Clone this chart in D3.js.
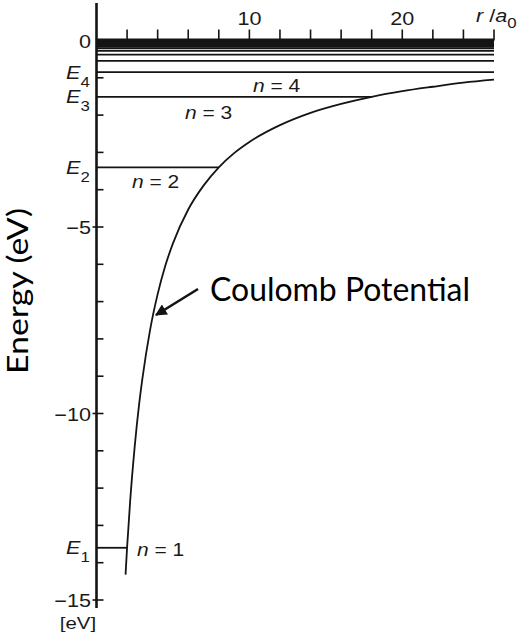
<!DOCTYPE html>
<html>
<head>
<meta charset="utf-8">
<script src="https://cdn.jsdelivr.net/npm/d3@7"></script>
<style>
  html, body { margin: 0; padding: 0; background: #fff; }
  svg { display: block; }
</style>
</head>
<body>
<svg id="chart" width="519" height="637"></svg>
<script>
// ---- data ----
// Coulomb potential V(r) in eV against r / a0
const curveR = [1.9, 2.0, 2.2, 2.5, 2.8, 3.0, 3.5, 4.0, 4.5, 5.0, 6.0, 7.0, 8.0, 9.0, 10, 12, 14, 16, 18, 20, 22, 24, 26];
const curveV = [-14.32, -13.6, -12.36, -10.88, -9.71, -9.07, -7.77, -6.8, -6.04, -5.44, -4.53, -3.89, -3.4, -3.02, -2.72, -2.27, -1.94, -1.7, -1.51, -1.36, -1.24, -1.13, -1.05];

// Energy levels (eV) and the r/a0 where each line stops (null = to the axis end)
const levelE   = [-13.6, -3.4, -1.51, -0.85, -0.544, -0.378, -0.278, -0.213, -0.168, -0.136, -0.112, -0.094, -0.08, -0.069, -0.06, -0.053, -0.047, -0.042, -0.038, -0.034, -0.028, -0.022, -0.016, -0.01, -0.005];
const levelEndR = [2, 8, 18, null];
const levelNames = ["1", "2", "3", "4"];      // subscripts of E_n
const nLabels    = ["n = 1", "n = 2", "n = 3", "n = 4"];

// axes
const xTicks = [2, 4, 6, 8, 10, 12, 14, 16, 18, 20, 22, 24, 26];
const xTickLabels = [10, 20];
const yMajorTicks = [0, -5, -10, -15];
const yMinorTicks = [-1, -2, -3, -4, -6, -7, -8, -9, -11, -12, -13, -14];

// ---- drawing ----
const svg = d3.select("#chart");
const ink = "#141414";
const SANS = "'Liberation Sans', Arial, sans-serif";
const SX = 1.2; // the figure's lettering is horizontally wide

const x = d3.scaleLinear().domain([0, 26]).range([96.5, 494]);
const y = d3.scaleLinear().domain([0, -15]).range([40.5, 600]);

function label(px, py, anchor, size) {
  return svg.append("text")
    .attr("transform", `translate(${px},${py}) scale(${SX},1)`)
    .attr("text-anchor", anchor)
    .style("font-family", SANS).style("font-size", size + "px").style("fill", "#1a1a1a");
}

// energy level lines
svg.append("g").selectAll("line").data(levelE).join("line")
  .attr("x1", x(0))
  .attr("x2", (d, i) => (levelEndR[i] != null ? x(levelEndR[i]) : x(26)))
  .attr("y1", d => y(d)).attr("y2", d => y(d))
  .attr("stroke", ink).attr("stroke-width", 1.8);

// x axis (top) with upward ticks
svg.append("line").attr("x1", x(0)).attr("x2", x(26))
  .attr("y1", y(0)).attr("y2", y(0))
  .attr("stroke", ink).attr("stroke-width", 4);
svg.append("g").selectAll("line").data(xTicks).join("line")
  .attr("x1", d => x(d)).attr("x2", d => x(d))
  .attr("y1", y(0)).attr("y2", y(0) - 11)
  .attr("stroke", ink).attr("stroke-width", 1.6);
xTickLabels.forEach(v => label(x(v), 25, "middle", 18).text(v));

// r / a0 label
const rl = label(476, 22, "start", 18);
rl.append("tspan").style("font-style", "italic").text("r");
rl.append("tspan").text(" /");
rl.append("tspan").style("font-style", "italic").text("a");
rl.append("tspan").style("font-size", "14px").attr("dy", 6).text("0");

// y axis
svg.append("line").attr("x1", x(0)).attr("x2", x(0))
  .attr("y1", 3).attr("y2", 608)
  .attr("stroke", ink).attr("stroke-width", 2.6);
svg.append("g").selectAll("line").data(yMinorTicks).join("line")
  .attr("x1", x(0)).attr("x2", x(0) + 7)
  .attr("y1", d => y(d)).attr("y2", d => y(d))
  .attr("stroke", ink).attr("stroke-width", 1.6);
svg.append("g").selectAll("line").data(yMajorTicks.slice(1)).join("line")
  .attr("x1", x(0) - 4).attr("x2", x(0) + 7)
  .attr("y1", d => y(d)).attr("y2", d => y(d))
  .attr("stroke", ink).attr("stroke-width", 1.6);
yMajorTicks.forEach(d => {
  label(91, y(d) + 7, "end", 18).text(d === 0 ? "0" : "\u2212" + Math.abs(d));
});
label(78, 629, "middle", 17).text("[eV]");

// E_n labels
levelNames.forEach((s, i) => {
  const t = label(66, y(levelE[i]) + 6.5, "start", 18);
  t.append("tspan").style("font-style", "italic").text("E");
  t.append("tspan").style("font-size", "14px").attr("dy", 8).text(s);
});

// n = labels
const nPos = [[137, 556], [132, 188], [185, 119], [253, 92]];
nLabels.forEach((s, i) => {
  const t = label(nPos[i][0], nPos[i][1], "start", 17.5);
  t.append("tspan").style("font-style", "italic").text("n");
  t.append("tspan").text(s.slice(1));
});

// Coulomb potential curve
const pts = curveR.map((r, i) => [r, curveV[i]]);
svg.append("path").datum(pts)
  .attr("d", d3.line().x(d => x(d[0])).y(d => y(d[1])).curve(d3.curveMonotoneX))
  .attr("fill", "none").attr("stroke", ink).attr("stroke-width", 1.8);

// arrow + label
svg.append("defs").append("marker")
  .attr("id", "ah").attr("viewBox", "0 0 10 10").attr("refX", 9).attr("refY", 5)
  .attr("markerWidth", 5).attr("markerHeight", 4.5).attr("orient", "auto")
  .append("path").attr("d", "M0,0 L10,5 L0,10 Z").attr("fill", ink);
svg.append("line").attr("x1", 198).attr("y1", 289).attr("x2", 156).attr("y2", 315)
  .attr("stroke", ink).attr("stroke-width", 2.6).attr("marker-end", "url(#ah)");
svg.append("text").attr("x", 210).attr("y", 301)
  .style("font-family", "Lato, 'Open Sans', sans-serif").style("font-size", "32px")
  .attr("textLength", 260).attr("lengthAdjust", "spacingAndGlyphs")
  .style("fill", "#000").text("Coulomb Potential");

// y-axis title
svg.append("text").attr("transform", "translate(28,291) rotate(-90)")
  .attr("text-anchor", "middle")
  .style("font-family", "Lato, 'Open Sans', sans-serif").style("font-size", "28px")
  .attr("textLength", 166).attr("lengthAdjust", "spacingAndGlyphs")
  .style("fill", "#000").text("Energy (eV)");
</script>
</body>
</html>
